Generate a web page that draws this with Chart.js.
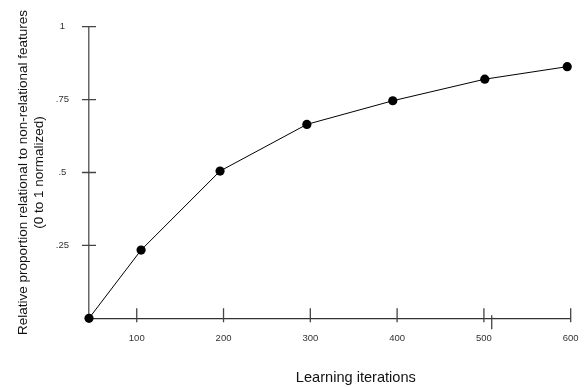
<!DOCTYPE html>
<html>
<head>
<meta charset="utf-8">
<style>
  html, body { margin: 0; padding: 0; background: #fff; }
  canvas { display: block; }
</style>
<script src="https://cdn.jsdelivr.net/npm/chart.js@4/dist/chart.umd.min.js"></script>
</head>
<body>
<canvas id="c" width="584" height="387"></canvas>
<script>
// ---- data ----
const iterations = [45, 105, 196, 296, 395, 501, 596];
const proportion = [0, 0.234, 0.505, 0.665, 0.746, 0.820, 0.863];
const xTickValues = [100, 200, 300, 400, 500, 600];
const yTickValues = [0.25, 0.5, 0.75, 1];
const yTickLabels = ['.25', '.5', '.75', '1'];
const xExtraTicks = [509];
const xTitle = 'Learning iterations';
const yTitle = ['Relative proportion relational to non-relational features', '(0 to 1 normalized)'];

const FONT = '"Liberation Sans", Arial, Helvetica, sans-serif';

const crossTicks = {
  id: 'crossTicks',
  afterDatasetsDraw(chart) {
    const ctx = chart.ctx;
    const xs = chart.scales.x, ys = chart.scales.y;
    const x0 = xs.getPixelForValue(xs.min);
    const y0 = ys.getPixelForValue(0);
    ctx.save();
    ctx.strokeStyle = '#444';
    ctx.lineWidth = 1.3;
    ctx.beginPath();
    yTickValues.forEach(v => {
      const p = ys.getPixelForValue(v);
      ctx.moveTo(x0 - 7, p); ctx.lineTo(x0 + 7, p);
    });
    xTickValues.forEach(v => {
      const p = xs.getPixelForValue(v);
      ctx.moveTo(p, y0 - 10); ctx.lineTo(p, y0 + 4);
    });
    xExtraTicks.forEach(v => {
      const p = xs.getPixelForValue(v);
      ctx.moveTo(p, y0 - 3); ctx.lineTo(p, y0 + 11);
    });
    ctx.stroke();
    ctx.restore();
  }
};

// x-axis title, drawn slightly right of the plot centre as in the original
const xTitlePlugin = {
  id: 'xTitlePlugin',
  afterDraw(chart) {
    const ctx = chart.ctx;
    const ca = chart.chartArea;
    ctx.save();
    ctx.font = '14.6px ' + FONT;
    ctx.fillStyle = '#111';
    ctx.textAlign = 'center';
    ctx.textBaseline = 'alphabetic';
    ctx.fillText(xTitle, (ca.left + ca.right) / 2 + 26, chart.height - 5.3);
    ctx.restore();
  }
};

new Chart(document.getElementById('c'), {
  type: 'line',
  data: {
    datasets: [{
      data: iterations.map((x, i) => ({ x: x, y: proportion[i] })),
      borderColor: '#000',
      borderWidth: 1,
      backgroundColor: '#000',
      pointBackgroundColor: '#000',
      pointBorderColor: '#000',
      pointRadius: 4.6,
      pointBorderWidth: 0,
      tension: 0,
      clip: false
    }]
  },
  options: {
    responsive: false,
    animation: false,
    events: [],
    layout: { padding: { top: 26.7, right: 13.3, left: 0, bottom: 0 } },
    plugins: { legend: { display: false }, tooltip: { enabled: false } },
    scales: {
      x: {
        type: 'linear',
        min: 45,
        max: 600,
        afterBuildTicks: s => { s.ticks = xTickValues.map(v => ({ value: v })); },
        afterFit: s => { s.height = 68.7; },
        grid: { display: true, drawOnChartArea: false, drawTicks: true, tickLength: 14.5, color: 'rgba(0,0,0,0)' },
        border: { display: true, color: '#333', width: 1.3 },
        ticks: {
          padding: 0,
          maxRotation: 0,
          autoSkip: false,
          color: '#333',
          font: { family: FONT, size: 9.5 },
          callback: v => String(v)
        },
        title: { display: false }
      },
      y: {
        type: 'linear',
        min: 0,
        max: 1,
        afterBuildTicks: s => { s.ticks = yTickValues.map(v => ({ value: v })); },
        afterFit: s => { s.width = 89; },
        grid: { display: false, drawTicks: false },
        border: { display: true, color: '#666', width: 1.5 },
        ticks: {
          padding: 20,
          crossAlign: 'center',
          autoSkip: false,
          color: '#333',
          font: { family: FONT, size: 9.5 },
          callback: v => yTickLabels[yTickValues.indexOf(v)]
        },
        title: {
          display: true,
          text: yTitle,
          color: '#111',
          font: { family: FONT, size: 13.5, lineHeight: 1.19 },
          padding: { top: 14.8, bottom: 0 }
        }
      }
    }
  },
  plugins: [crossTicks, xTitlePlugin]
});
</script>
</body>
</html>
